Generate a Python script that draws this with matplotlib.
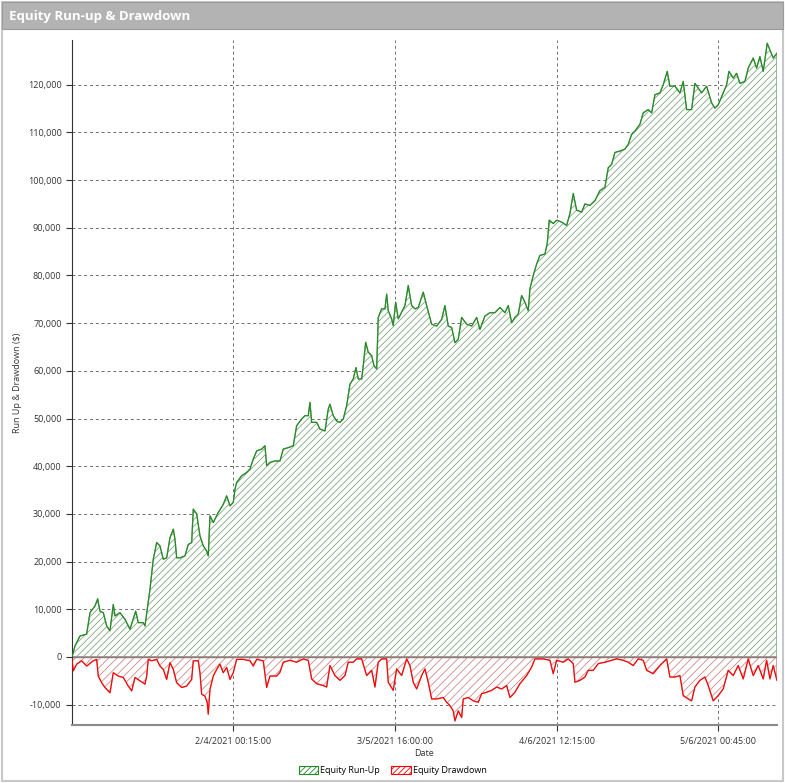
import matplotlib
matplotlib.use('Agg')
import matplotlib.pyplot as plt
from matplotlib.patches import Rectangle, Patch
from matplotlib.ticker import FuncFormatter
import numpy as np

# bar index (x) and equity run-up ($)
run_x = [0, 3, 8, 14.7, 18, 23, 25.7, 28, 31.3, 34.7, 38, 41.3, 43, 48, 53, 58, 63.7, 66.3,
         71.3, 73, 75.7, 78, 81.3, 84.7, 88, 91.3, 94.7, 98, 101.3, 103, 104.7, 108, 113,
         116.3, 119.7, 121.3, 124.7, 128, 131.3, 134.7, 136.3, 138, 141.3, 146.3, 151.3,
         154.7, 158, 161.3, 163, 164.7, 169.7, 174.7, 178, 181.3, 184.7, 189.7, 193, 194.7,
         198, 203, 208, 211.3, 216.3, 221.3, 224.7, 229.7, 233, 236.3, 238, 239.7, 244.7,
         248, 253, 256.3, 258, 261.3, 264.7, 268, 271.3, 274.7, 278, 281.3, 284, 286.3,
         289.7, 291.3, 293.7, 296.3, 299.7, 302, 304.7, 306.3, 309.7, 313, 314.7, 316.3,
         319.7, 321.3, 323.7, 326.3, 329.7, 333, 336.3, 339.7, 343, 346.3, 351.3, 354.7,
         359.7, 364.7, 369.7, 373, 376.3, 379.7, 383, 386.3, 389.7, 394.7, 399.7, 404.7,
         408, 413, 418, 423, 428, 433, 436.3, 439.7, 443, 446.3, 449.7, 453, 456.3, 458,
         461.3, 464.7, 468, 473, 475.3, 477.3, 481.3, 484.7, 489.7, 494.7, 498, 501.3,
         504.7, 509.7, 513, 518, 523, 528, 533, 536.3, 539.7, 543, 548, 553, 556.3, 559.7,
         563, 568, 571.3, 576.3, 579.7, 583, 588, 591.3, 595.3, 598, 603, 608, 611.3,
         614.7, 619.7, 623, 626.3, 629.7, 634.7, 639.7, 643, 646.3, 651.3, 654.7, 657,
         661.3, 664.7, 668, 673, 676.3, 681.3, 684.7, 688, 691.3, 695.3, 698, 701.3, 705]
run_up = [0, 2300, 4400, 4800, 9300, 10700, 12200, 9600, 9300, 6500, 5500, 11000, 8600,
          9300, 7900, 5800, 9600, 7200, 7200, 6500, 10700, 14200, 20500, 24000, 23300,
          20500, 20800, 25000, 26800, 24700, 20800, 20800, 21200, 23600, 24000, 31000,
          30000, 25400, 23300, 22200, 21200, 29600, 28200, 30300, 32000, 33800, 31700,
          32400, 35200, 36600, 38000, 38700, 39400, 41500, 43200, 43600, 44300, 40100,
          40800, 41100, 41100, 43600, 43900, 44300, 48500, 49900, 50600, 50600, 53400,
          49200, 49200, 47800, 47400, 52000, 53000, 50600, 49500, 49200, 49900, 52700,
          57200, 58300, 60700, 58300, 58300, 61100, 66000, 63900, 63200, 61100, 60400,
          71200, 73000, 73000, 76100, 72600, 70900, 69500, 74400, 70900, 72300, 73700,
          77900, 73700, 73000, 73300, 76500, 73700, 69800, 69400, 70800, 73700, 69400,
          69100, 65900, 66600, 71200, 69800, 69400, 71200, 68700, 71500, 72200, 72200,
          73300, 72200, 73700, 70100, 71200, 71900, 75800, 74400, 72600, 77200, 80000,
          82400, 84200, 84500, 86700, 91600, 90900, 91600, 91200, 90500, 93000, 97200,
          93700, 93300, 95000, 94700, 95700, 97800, 98500, 102600, 103300, 105800, 106100,
          106500, 107500, 109600, 110300, 111700, 114100, 114800, 114100, 117900, 118300,
          120000, 122800, 119700, 119700, 118300, 120700, 114800, 114800, 120300, 119300,
          118300, 119700, 116200, 115100, 115800, 118300, 120000, 122800, 121400, 122400,
          120300, 120700, 123500, 125600, 123500, 125900, 122800, 128700, 127300, 125600,
          126600]

# bar index (x) and equity drawdown ($)
dd_x = [0, 1.3, 4.7, 9.7, 14.7, 21.3, 24.7, 26.3, 29.7, 33, 38, 41.3, 46.3, 51.3, 56.3,
        59.7, 63, 68, 73, 74.7, 76.3, 79.7, 84.7, 88, 91.3, 94.7, 98, 101.3, 104.7, 109.7,
        114.7, 119.7, 121.3, 126.3, 128, 129.7, 133, 135.3, 136.3, 138, 141.3, 144.7, 148,
        151.3, 154.7, 158, 161.3, 164.7, 171.3, 178, 181.3, 184.7, 191.3, 194.7, 198,
        204.7, 208, 211.3, 218, 224.7, 231.3, 236.3, 239.7, 244.7, 251.3, 254.7, 258,
        263, 268, 273, 276.3, 281.3, 284.7, 289.7, 294.7, 299.7, 303, 306.3, 309.7,
        314.7, 316.3, 321.3, 324.7, 329.7, 334.7, 338, 341.3, 344.7, 349.7, 353, 356.3,
        359.7, 364.7, 371.3, 374.7, 378, 381.3, 383, 386.3, 389.7, 391.3, 396.3, 401.3,
        406.3, 409.7, 414.7, 419.7, 424.7, 429.7, 434.7, 438, 443, 448, 454.7, 459.7,
        463, 471.3, 478, 481.3, 484.7, 491.3, 496.3, 501.3, 503, 508, 513, 516.3, 521.3,
        526.3, 533, 539.7, 544.7, 551.3, 556.3, 561.3, 566.3, 571.3, 574.7, 581.3, 588,
        594.7, 598, 603, 608, 611.3, 616.3, 619.7, 623, 628, 633, 636.3, 641.3, 646.3,
        651.3, 656.3, 661.3, 666.3, 671.3, 676.3, 681.3, 686.3, 691.3, 694.7, 698, 701.3,
        705]
drawdown = [-500, -2900, -1500, -800, -1900, -800, -500, -4000, -5400, -6400, -7500,
            -3300, -4000, -4300, -6100, -7100, -4300, -5000, -5700, -4000, -500, -800,
            -500, -1900, -2600, -4700, -1200, -2600, -5400, -6400, -6100, -4700, -800,
            -800, -3300, -7800, -8200, -9600, -12000, -6800, -4000, -2600, -1500, -3300,
            -2200, -4700, -3300, -500, -500, -800, -1900, -500, -800, -6400, -4000, -4000,
            -3200, -1100, -700, -1100, -400, -700, -4600, -5600, -6000, -6300, -1800,
            -3900, -4900, -3900, -1100, -1100, -400, -400, -3900, -2800, -6300, -1100,
            -400, -400, -5300, -7000, -2500, -3900, -400, -1800, -5300, -6700, -3900,
            -2500, -5300, -8800, -8800, -8500, -9500, -10200, -11300, -13400, -11300,
            -12700, -8800, -8500, -9200, -9500, -7700, -7400, -7000, -6300, -6700, -6000,
            -8500, -7400, -5600, -3900, -2100, -400, -400, -700, -3500, -700, -1100, -400,
            -1400, -5300, -4900, -4200, -2800, -2800, -1400, -1100, -700, -400, -700,
            -1100, -1800, -400, -700, -2800, -3500, -1800, -400, -4200, -4200, -3900,
            -8100, -8800, -9200, -6300, -4900, -4200, -6000, -9200, -8100, -6700, -2800,
            -3900, -1800, -4600, -400, -3900, -1800, -4600, -700, -4600, -1800, -4900]

tick_pos = [161, 323, 485, 646]
tick_labels = ['2/4/2021 00:15:00', '3/5/2021 16:00:00', '4/6/2021 12:15:00',
               '5/6/2021 00:45:00']

plt.rcParams['font.family'] = ['Open Sans', 'DejaVu Sans']
plt.rcParams['hatch.linewidth'] = 0.6

fig = plt.figure(figsize=(7.85, 7.83), dpi=100)

# header bar and outer frame
fig.patches.append(Rectangle((0.002, 0.002), 0.996, 0.995, transform=fig.transFigure,
                             facecolor='none', edgecolor='#c8c8c8', lw=1.5, zorder=5))
fig.patches.append(Rectangle((0.003, 0.963), 0.994, 0.034, transform=fig.transFigure,
                             facecolor='#b3b3b3', edgecolor='#9a9a9a', lw=0.8, zorder=5))
fig.text(0.011, 0.979, 'Equity Run-up & Drawdown', color='white', fontsize=9.5,
         fontweight='bold', va='center', ha='left', zorder=6)

ax = fig.add_axes([0.0917, 0.0741, 0.898, 0.8749])

ax.fill_between(run_x, 0, run_up, facecolor='white', hatch='/////', edgecolor='#80a980',
                lw=1.0, zorder=1)
ax.plot(run_x, run_up, color='#228b22', lw=0.8, zorder=3)
ax.fill_between(dd_x, 0, drawdown, facecolor='white', hatch='////', edgecolor='#cf8a8a',
                lw=1.0, zorder=1)
ax.plot(dd_x, drawdown, color='#ff0000', lw=0.8, zorder=3)
ax.axhline(0, color='#808080', lw=1.0, zorder=2)

ax.set_xlim(0, 705)
ax.set_ylim(-14260, 129400)
ax.set_yticks(np.arange(-10000, 120001, 10000))
ax.yaxis.set_major_formatter(FuncFormatter(lambda v, p: f'{int(v):,}'))
ax.set_xticks(tick_pos)
ax.set_xticklabels(tick_labels)

ax.grid(True, color='#6e6e6e', ls=(0, (3, 3)), lw=0.7, zorder=0)
ax.set_axisbelow(True)
for s in ['top', 'right']:
    ax.spines[s].set_visible(False)
ax.spines['left'].set_color('#333333')
ax.spines['bottom'].set_color('#8a8a8a')
ax.spines['bottom'].set_linewidth(1.5)
ax.tick_params(axis='both', labelsize=6.5, colors='#333333', length=4, width=0.8)
ax.tick_params(axis='x', pad=5)

ax.set_xlabel('Date', fontsize=6.5, color='#333333', labelpad=2)
ax.set_ylabel('Run Up & Drawdown ($)', fontsize=6.5, color='#333333', labelpad=4)

handles = [Patch(facecolor='white', edgecolor='#228b22', hatch='//////', lw=0.8,
                 label='Equity Run-Up'),
           Patch(facecolor='white', edgecolor='#ff0000', hatch='//////', lw=0.8,
                 label='Equity Drawdown')]
fig.legend(handles=handles, loc='center', bbox_to_anchor=(0.5, 0.016), ncol=2,
           frameon=False, fontsize=6.5, handlelength=2.2, handleheight=1.0,
           handletextpad=0.2, columnspacing=1.2, borderpad=0)

fig.savefig('out.png', dpi=100)
